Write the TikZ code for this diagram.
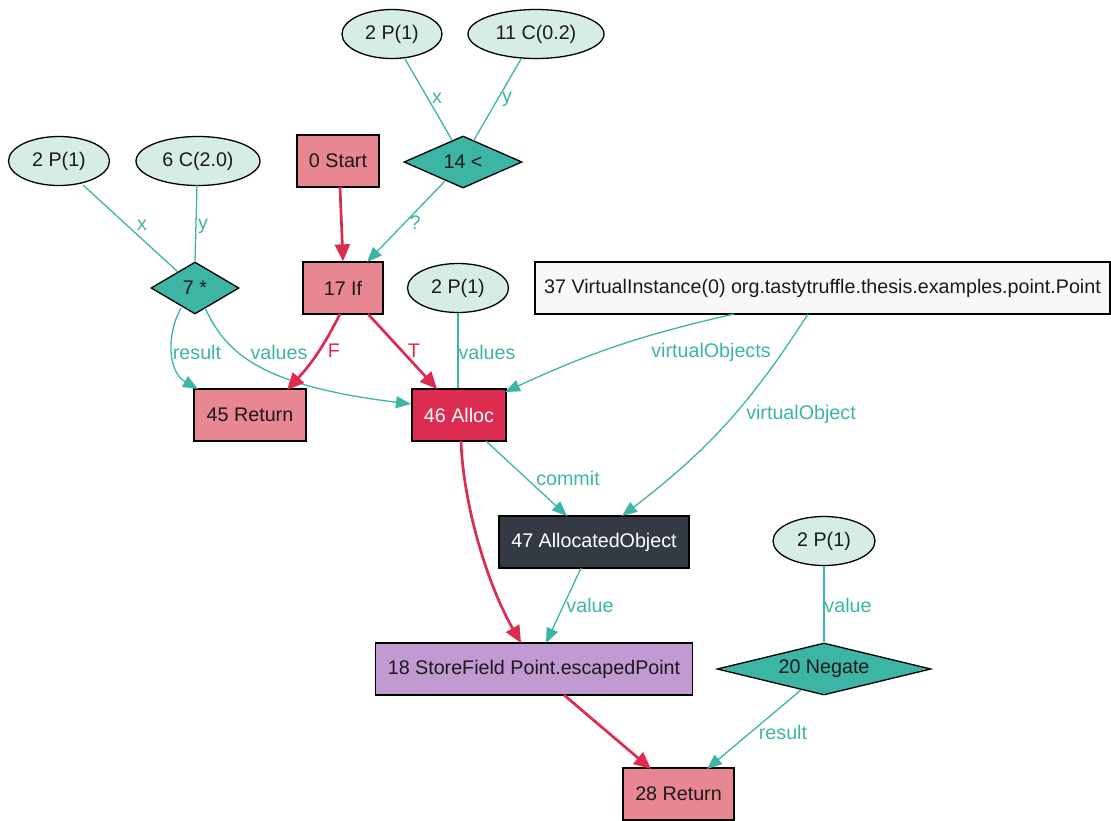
\documentclass[tikz,border=0pt]{standalone}
\usepackage{fontspec}
\setmainfont{Liberation Sans}
\usetikzlibrary{shapes.geometric,arrows.meta,calc}

\definecolor{ctrlfill}{HTML}{E88791}
\definecolor{allocfill}{HTML}{DC2C50}
\definecolor{aobjfill}{HTML}{343A44}
\definecolor{storefill}{HTML}{C29AD2}
\definecolor{inputfill}{HTML}{D6EDE7}
\definecolor{opfill}{HTML}{3DB5A4}
\definecolor{virtfill}{HTML}{F8F8F8}
\definecolor{dataline}{HTML}{3DB5A4}
\definecolor{ctrlline}{HTML}{DC2C50}
\definecolor{ink}{HTML}{1A1A1A}

\tikzset{
  base/.style={draw=black, line width=1.3pt, inner sep=0pt, text=ink,
    font=\fontsize{19.7}{23}\selectfont},
  box/.style={base, rectangle, minimum height=52},
  ctrl/.style={box, fill=ctrlfill},
  alloc/.style={box, fill=allocfill, text=white},
  aobj/.style={box, fill=aobjfill, text=white},
  store/.style={box, fill=storefill},
  virt/.style={box, fill=virtfill},
  inp/.style={base, ellipse, fill=inputfill, minimum height=49},
  op/.style={base, diamond, fill=opfill, minimum height=52},
  data/.style={draw=dataline, line width=1.3pt},
  dataarrow/.style={data, -{Triangle[length=15pt,width=12pt]}},
  flow/.style={draw=ctrlline, line width=2.7pt, -{Triangle[length=17pt,width=15pt]}},
  dlabel/.style={text=dataline, inner sep=1pt, font=\fontsize{19.7}{23}\selectfont},
  flabel/.style={text=ctrlline, inner sep=1pt, font=\fontsize{19.7}{23}\selectfont},
}

\begin{document}
\begin{tikzpicture}[x=1pt,y=-1pt]
\useasboundingbox (0,0) rectangle (1111,820);

% nodes
\node[inp, minimum width=100] (a1) at (392,34) {2 P(1)};
\node[inp, minimum width=136] (a2) at (536,34) {11 C(0.2)};
\node[inp, minimum width=101] (b1) at (59,161) {2 P(1)};
\node[inp, minimum width=124] (b2) at (198,161) {6 C(2.0)};
\node[ctrl, minimum width=82] (start) at (338,161) {0 Start};
\node[op, aspect=2.27, minimum width=118] (lt) at (463,162) {14 <};
\node[op, aspect=1.7, minimum width=88] (mul) at (195,288) {7 *};
\node[ctrl, minimum width=80] (if) at (343,288) {17 If};
\node[inp, minimum width=101] (c1) at (458,288) {2 P(1)};
\node[virt, minimum width=575] (vi) at (822.5,288) {37 VirtualInstance(0) org.tastytruffle.thesis.examples.point.Point};
\node[ctrl, minimum width=112] (ret45) at (250,415) {45 Return};
\node[alloc, minimum width=94] (alloc) at (459,415) {46 Alloc};
\node[aobj, minimum width=190] (aobj) at (594,542) {47 AllocatedObject};
\node[inp, minimum width=102] (d1) at (824,541) {2 P(1)};
\node[store, minimum width=317] (store) at (534,669) {18 StoreField Point.escapedPoint};
\node[op, aspect=4.1, minimum width=214] (neg) at (824,669) {20 Negate};
\node[ctrl, minimum width=111] (ret28) at (678.5,794) {28 Return};

% operand edges
\draw[data] ($(a1)+(13,25)$) -- ($(lt)+(-11,-22)$);
\draw[data] ($(a2)+(-15,25)$) -- ($(lt)+(11,-22)$);
\draw[data] ($(b1)+(24,24)$) -- ($(mul)+(-17,-16)$);
\draw[data] ($(b2)+(-1,24)$) -- (mul.north);
\draw[data] (c1.south) -- (c1.south |- alloc.north);
\draw[data] (d1.south) -- (neg.north);

% data edges with arrow heads
\draw[dataarrow] ($(lt)+(-18,19)$) -- ($(if)+(24,-26)$);
\draw[dataarrow] ($(mul)+(-14,20)$) .. controls (166,335) and (168,372) .. ($(ret45)+(-52,-26)$);
\draw[dataarrow] ($(mul)+(10,20)$) .. controls (225,350) and (255,385) .. ($(alloc)+(-48,-11)$);
\draw[dataarrow] ($(vi)+(-88.5,26)$) to[bend right=6] ($(alloc)+(46,-23)$);
\draw[dataarrow] ($(vi)+(-14.5,26)$) to[bend left=10] ($(aobj)+(28,-26)$);
\draw[dataarrow] ($(alloc)+(27,26)$) -- ($(aobj)+(-27,-26)$);
\draw[dataarrow] ($(aobj)+(-13,26)$) -- ($(store)+(12,-26)$);
\draw[dataarrow] ($(neg)+(-23,21)$) -- ($(ret28)+(28.5,-25)$);

% control flow
\draw[flow] ($(start)+(2,26)$) -- (if.north);
\draw[flow] ($(if)+(-3,26)$) to[bend left=8] ($(ret45)+(37,-25)$);
\draw[flow] ($(if)+(25,26)$) -- ($(alloc)+(-22,-26)$);
\draw[flow] ($(alloc)+(2,26)$) .. controls (463,500) and (485,580) .. ($(store)+(-13,-26)$);
\draw[flow] ($(store)+(30,26)$) -- ($(ret28)+(-27.5,-25)$);

% edge labels
\node[dlabel] (lx1) at (437,98) {x};
\node[dlabel] (ly1) at (507,99) {y};
\node[dlabel] (lq) at (415,223) {?};
\node[dlabel] (lx2) at (142,225) {x};
\node[dlabel] (ly2) at (203,226) {y};
\node[dlabel] (lres1) at (197,352) {result};
\node[dlabel] (lval1) at (279,352) {values};
\node[flabel] (lf) at (334,351) {F};
\node[flabel] (lt2) at (414,351) {T};
\node[dlabel] (lval2) at (487,352) {values};
\node[dlabel] (lvo) at (711,352) {virtualObjects};
\node[dlabel] (lvo2) at (801,414) {virtualObject};
\node[dlabel] (lcom) at (568,478) {commit};
\node[dlabel] (lv3) at (590,605) {value};
\node[dlabel] (lv4) at (848,605) {value};
\node[dlabel] (lres2) at (783,732) {result};
\end{tikzpicture}
\end{document}
